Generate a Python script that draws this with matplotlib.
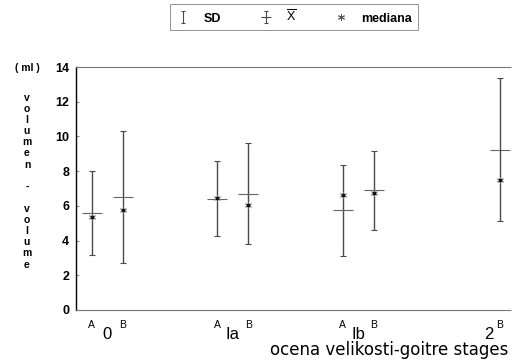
import numpy as np
import matplotlib
matplotlib.use('Agg')
import matplotlib.pyplot as plt
from matplotlib.path import Path
from matplotlib.lines import Line2D

plt.rcParams['font.family'] = ['Liberation Sans', 'DejaVu Sans']
plt.rcParams['mathtext.fontset'] = 'custom'
plt.rcParams['mathtext.rm'] = 'Liberation Sans'

# stopnje golsavosti, podskupini A in B
groups = ['0', 'Ia', 'Ib', '2']
subgroup = ['A', 'B', 'A', 'B', 'A', 'B', 'B']
group_idx = [0, 0, 1, 1, 2, 2, 3]
mean = [5.6, 6.5, 6.42, 6.7, 5.75, 6.9, 9.23]
sd = [2.42, 3.8, 2.15, 2.9, 2.63, 2.27, 4.13]
median = [5.35, 5.75, 6.45, 6.07, 6.6, 6.74, 7.47]

off = 0.124
x = np.array([g + (-off if s == 'A' else off) for g, s in zip(group_idx, subgroup)])

fig = plt.figure(figsize=(5.12, 3.6), dpi=100)
ax = fig.add_axes([76/512, 50/360, 435/512, 243/360])

col = '#4a4a4a'
ax.errorbar(x, mean, yerr=sd, fmt='none', ecolor=col, elinewidth=1.0,
            capsize=2.5, capthick=0.8)
ax.plot(x, mean, ls='none', marker='_', ms=14, mew=0.8, color='#666')
ax.plot(x, median, ls='none', marker=(6, 2, 0), ms=5, mew=0.6, color='#777')
ax.plot(x, median, ls='none', marker='o', ms=1.8, color='#111')

ax.set_xlim(-0.25, 3.215)
ax.set_ylim(0, 14)
ax.set_yticks(np.arange(0, 15, 2))
ax.set_yticklabels([str(v) for v in range(0, 15, 2)], fontsize=9, fontweight='bold')
ax.tick_params(axis='y', direction='in', length=2, color='#888', pad=5)
ax.set_xticks([])

for s in ['top', 'bottom']:
    ax.spines[s].set_linestyle((0, (1, 1)))
    ax.spines[s].set_color('#777')
    ax.spines[s].set_linewidth(0.8)
ax.spines['right'].set_visible(False)
ax.spines['left'].set_color('black')
ax.spines['left'].set_linewidth(1.0)

# oznake skupin in podskupin
tr = ax.get_xaxis_transform()
for i, g in enumerate(groups):
    cx = i if g != '2' else i + 0.04
    ax.text(cx, -0.068, g, transform=tr, ha='center', va='top', fontsize=12)
for xi, s in zip(x, subgroup):
    ax.text(xi, -0.042, s, transform=tr, ha='center', va='top', fontsize=7.5)

fig.text(508/512, 1 - 350/360, 'ocena velikosti-goitre stages', ha='right',
         va='center', fontsize=12, family='DejaVu Sans')

# naslov osi y
fig.text(27/512, 1 - 68/360, '( ml )', ha='center', va='center',
         fontsize=7.5, fontweight='bold')
letters = list('volumen') + ['', '-', ''] + list('volume')
for k, ch in enumerate(letters):
    yy = 98 + k * 11.1
    fig.text(27/512, 1 - yy/360, ch, ha='center', va='center',
             fontsize=7.5, fontweight='bold')

# legenda
sd_path = Path([(0, -1), (0, 1), (-0.3, 1), (0.3, 1), (-0.3, -1), (0.3, -1)],
               [Path.MOVETO, Path.LINETO, Path.MOVETO, Path.LINETO,
                Path.MOVETO, Path.LINETO])
mean_path = Path([(0, -1), (0, 1), (-0.3, 1), (0.3, 1), (-0.3, -1), (0.3, -1),
                  (-0.8, 0), (0.8, 0)],
                 [Path.MOVETO, Path.LINETO, Path.MOVETO, Path.LINETO,
                  Path.MOVETO, Path.LINETO, Path.MOVETO, Path.LINETO])
handles = [
    Line2D([], [], ls='none', marker=sd_path, ms=9, mec=col, mew=0.8),
    Line2D([], [], ls='none', marker=mean_path, ms=9, mec=col, mew=0.8),
    Line2D([], [], ls='none', marker=(6, 2, 0), ms=5, mec='#555', mew=0.7),
]
labels = ['SD', r'$\overline{\mathrm{X}}$', 'mediana']
leg = fig.legend(handles, labels, loc='center', bbox_to_anchor=(294/512, 1 - 17/360),
                 ncol=3, frameon=True, fancybox=False, edgecolor='#777',
                 prop={'size': 9, 'weight': 'bold'}, handlelength=1.2,
                 handletextpad=1.0, columnspacing=3.0, borderpad=0.45,
                 borderaxespad=0)
leg.get_frame().set_linewidth(0.7)

fig.savefig('out.png', dpi=100)
